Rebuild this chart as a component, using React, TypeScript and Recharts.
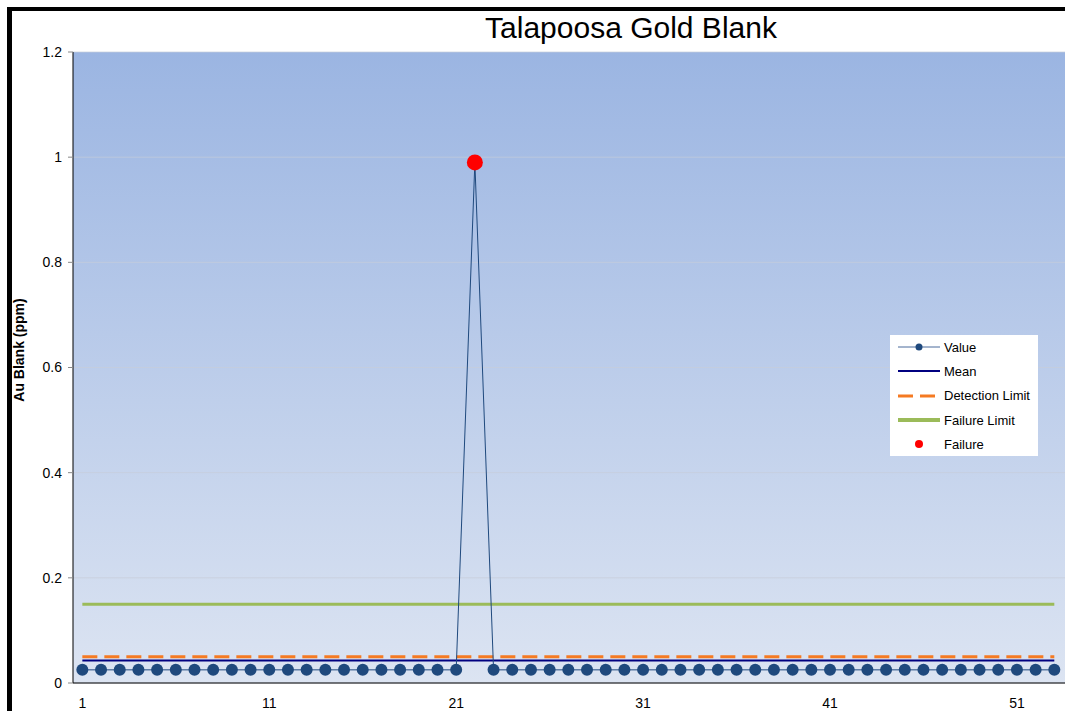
import { ComposedChart, Line, XAxis, YAxis, CartesianGrid, Legend } from 'recharts';

const FONT = 'Arial, "Liberation Sans", sans-serif';

// sample number (x axis categories)
const sampleNo = [
  1, 2, 3, 4, 5, 6, 7, 8, 9, 10,
  11, 12, 13, 14, 15, 16, 17, 18, 19, 20,
  21, 22, 23, 24, 25, 26, 27, 28, 29, 30,
  31, 32, 33, 34, 35, 36, 37, 38, 39, 40,
  41, 42, 43, 44, 45, 46, 47, 48, 49, 50,
  51, 52, 53,
];

// Au blank assays (ppm)
const auValues = [
  0.025, 0.025, 0.025, 0.025, 0.025, 0.025, 0.025, 0.025, 0.025, 0.025,
  0.025, 0.025, 0.025, 0.025, 0.025, 0.025, 0.025, 0.025, 0.025, 0.025,
  0.025, 0.99, 0.025, 0.025, 0.025, 0.025, 0.025, 0.025, 0.025, 0.025,
  0.025, 0.025, 0.025, 0.025, 0.025, 0.025, 0.025, 0.025, 0.025, 0.025,
  0.025, 0.025, 0.025, 0.025, 0.025, 0.025, 0.025, 0.025, 0.025, 0.025,
  0.025, 0.025, 0.025,
];

const meanValue = 0.043;
const detectionLimit = 0.05;
const failureLimit = 0.15;

const failureSamples = [22];
const failureValues = [0.99];

const xTicks = [1, 11, 21, 31, 41, 51];
const yTicks = [0, 0.2, 0.4, 0.6, 0.8, 1, 1.2];

const chartData = sampleNo.map((n, i) => {
  const f = failureSamples.indexOf(n);
  return {
    sample: n,
    value: auValues[i],
    mean: meanValue,
    detection: detectionLimit,
    failLimit: failureLimit,
    failure: f >= 0 ? failureValues[f] : null,
  };
});

function LegendIcon({ kind }: { kind: string }) {
  return (
    <svg width={42} height={12} style={{ display: 'block' }}>
      {kind === 'value' && (
        <>
          <line x1={0} y1={6} x2={42} y2={6} stroke="#4a6b9c" strokeWidth={1} />
          <circle cx={21} cy={6} r={3.5} fill="#1F497D" />
        </>
      )}
      {kind === 'mean' && <line x1={0} y1={6} x2={42} y2={6} stroke="#000080" strokeWidth={2} />}
      {kind === 'detection' && (
        <line x1={0} y1={6} x2={42} y2={6} stroke="#F57A22" strokeWidth={3} strokeDasharray="15 7" />
      )}
      {kind === 'failLimit' && <line x1={0} y1={6} x2={42} y2={6} stroke="#9BBB59" strokeWidth={4} />}
      {kind === 'failure' && <circle cx={21} cy={6} r={4} fill="#FF0000" />}
    </svg>
  );
}

const legendRows = [
  { kind: 'value', label: 'Value' },
  { kind: 'mean', label: 'Mean' },
  { kind: 'detection', label: 'Detection Limit' },
  { kind: 'failLimit', label: 'Failure Limit' },
  { kind: 'failure', label: 'Failure' },
];

function LegendBox() {
  return (
    <div style={{ background: '#fff', width: 148, height: 121, fontFamily: FONT, fontSize: 13, color: '#000' }}>
      {legendRows.map((r) => (
        <div key={r.kind} style={{ display: 'flex', alignItems: 'center', height: 24.3, paddingLeft: 8 }}>
          <LegendIcon kind={r.kind} />
          <span style={{ marginLeft: 4 }}>{r.label}</span>
        </div>
      ))}
    </div>
  );
}

export default function App() {
  return (
    <div style={{ position: 'fixed', left: 0, top: 0, width: 1065, height: 711, overflow: 'hidden', background: '#fff' }}>
      <div
        style={{
          position: 'absolute',
          left: 7,
          top: 7,
          width: 1200,
          height: 800,
          borderLeft: '5px solid #000',
          borderTop: '4px solid #000',
        }}
      />
      <div
        style={{
          position: 'absolute',
          left: 0,
          top: 13,
          width: 1262,
          textAlign: 'center',
          fontFamily: FONT,
          fontSize: 30,
          lineHeight: '30px',
          color: '#000',
        }}
      >
        Talapoosa Gold Blank
      </div>
      <div style={{ position: 'absolute', left: 0, top: 0 }}>
        <ComposedChart width={1073} height={711} data={chartData} margin={{ top: 52, right: 0, left: 0, bottom: 0 }}>
          <defs>
            <linearGradient id="plotBg" x1="0" y1="0" x2="0" y2="1">
              <stop offset="0%" stopColor="#9BB5E2" />
              <stop offset="100%" stopColor="#DCE4F2" />
            </linearGradient>
          </defs>
          <CartesianGrid vertical={false} fill="url(#plotBg)" fillOpacity={1} stroke="#c6cdda" strokeOpacity={0.7} />
          <XAxis
            dataKey="sample"
            type="number"
            domain={[0.5, 54]}
            ticks={xTicks}
            allowDataOverflow
            tickLine={false}
            axisLine={{ stroke: '#000' }}
            tick={{ fill: '#000', fontSize: 14, fontFamily: FONT }}
            tickMargin={9}
            height={28}
          />
          <YAxis
            type="number"
            domain={[0, 1.2]}
            ticks={yTicks}
            width={73}
            tickSize={5}
            tickMargin={6}
            tickLine={{ stroke: '#888' }}
            axisLine={{ stroke: '#000' }}
            tick={{ fill: '#000', fontSize: 14, fontFamily: FONT }}
            label={{
              content: () => (
                <text
                  x={24}
                  y={350}
                  transform="rotate(-90, 24, 350)"
                  textAnchor="middle"
                  fontFamily={FONT}
                  fontWeight="bold"
                  fontSize={14}
                  fill="#000"
                >
                  Au Blank (ppm)
                </text>
              ),
            }}
          />
          <Legend
            layout="horizontal"
            verticalAlign="middle"
            align="center"
            wrapperStyle={{ left: 890, top: 335, width: 148, height: 121 }}
            content={() => <LegendBox />}
          />
          <Line dataKey="failLimit" stroke="#9BBB59" strokeWidth={3} dot={false} isAnimationActive={false} />
          <Line
            dataKey="detection"
            stroke="#F57A22"
            strokeWidth={3}
            strokeDasharray="15 7"
            dot={false}
            isAnimationActive={false}
          />
          <Line dataKey="mean" stroke="#000080" strokeWidth={2} dot={false} isAnimationActive={false} />
          <Line
            dataKey="value"
            stroke="#1F497D"
            strokeWidth={1}
            dot={{ r: 6, fill: '#1F497D', stroke: 'none' }}
            isAnimationActive={false}
          />
          <Line
            dataKey="failure"
            stroke="none"
            dot={{ r: 8, fill: '#FF0000', stroke: 'none' }}
            isAnimationActive={false}
          />
        </ComposedChart>
      </div>
    </div>
  );
}
